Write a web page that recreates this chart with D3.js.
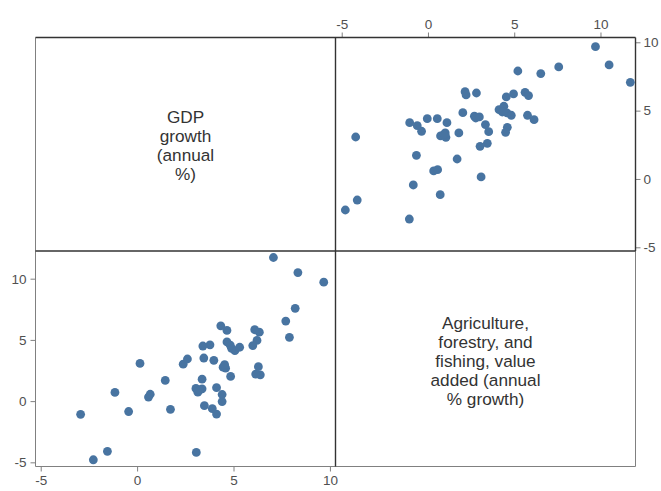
<!DOCTYPE html>
<html>
<head>
    <meta charset="utf-8"/>
    <script src="https://d3js.org/d3.v7.min.js"></script>
    <style>
        body { margin: 0; background-color: white; }
        svg { display: block; font-family: "Liberation Sans", Arial, sans-serif; }
    </style>
</head>
<body>
<script>

 // values, one entry per country
 var agriGrowth = [9.71,10.5,11.73,5.21,6.54,7.58,2.15,2.21,2.81,4.96,4.54,5.63,5.83,4.12,4.40,4.31,4.58,4.83,5.77,6.15,
                   2.02,2.69,2.77,2.98,-0.04,0.54,-1.06,1.10,-0.62,-0.37,3.33,3.52,4.6,4.5,1.79,0.73,1.0,1.04,0.92,-4.19,
                   3.02,3.44,-0.67,1.69,0.33,0.56,3.08,-0.85,0.71,-4.1,-4.79,-1.08];
 var gdpGrowth  = [9.68,8.34,7.07,7.9,7.71,8.2,6.39,6.15,6.29,6.22,6.0,6.34,6.1,5.07,5.32,4.9,4.83,4.66,4.66,4.34,
                   4.85,4.59,4.46,4.54,4.41,4.41,4.12,4.12,3.9,3.49,3.98,3.46,3.78,3.41,3.37,3.15,3.37,3.05,3.24,3.07,
                   2.39,2.61,1.73,1.46,0.59,0.68,0.15,-0.44,-1.15,-1.54,-2.27,-2.93];

 var gdpLabel  = ["GDP", "growth", "(annual", "%)"];
 var agriLabel = ["Agriculture,", "forestry, and", "fishing, value", "added (annual", "% growth)"];

 var gdpTicks  = [-5, 0, 5, 10];
 var agriTicks = [-5, 0, 5, 10];

 // globals
 var width = 661, height = 491;
 var xL = 35.5, xM = 335.5, xR = 635.5;
 var yT = 37.5, yM = 251, yB = 466.5;
 var dotColor = "#4874a1";
 var darkLine = "#333", greyLine = "#808080", tickText = "#505050";

 var points = gdpGrowth.map(function(d, i){ return {gdp: d, agri: agriGrowth[i]}; });

 var svgDoc = d3.select("body").append("svg")
    .attr("width", width)
    .attr("height", height);

 // scales, top right cell: x = agriculture, y = gdp
 var xAgri = d3.scaleLinear().domain([-5.36, 12.03]).range([xM, xR]);
 var yGdp  = d3.scaleLinear().domain([-5.27, 10.35]).range([yM, yT]);
 // bottom left cell: x = gdp, y = agriculture
 var xGdp  = d3.scaleLinear().domain([-5.27, 10.29]).range([xL, xM]);
 var yAgri = d3.scaleLinear().domain([-5.34, 12.26]).range([yB, yM]);

 // plain hyphen for negatives, like the original
 var fmt = function(d){ return String(d); };

 // axes
 function styleAxis(g) {
    g.select(".domain").remove();
    g.selectAll(".tick line").attr("stroke", greyLine);
    g.selectAll(".tick text").attr("fill", tickText).style("font-size", "13.5px");
 }

 svgDoc.append("g")
    .attr("transform", "translate(0," + yT + ")")
    .call(d3.axisTop(xAgri).tickValues(agriTicks).tickSize(5).tickPadding(4).tickFormat(fmt))
    .call(styleAxis);

 svgDoc.append("g")
    .attr("transform", "translate(" + xR + ",0)")
    .call(d3.axisRight(yGdp).tickValues(gdpTicks).tickSize(5).tickPadding(3).tickFormat(fmt))
    .call(styleAxis);

 svgDoc.append("g")
    .attr("transform", "translate(" + xL + ",0)")
    .call(d3.axisLeft(yAgri).tickValues(agriTicks).tickSize(5).tickPadding(4).tickFormat(fmt))
    .call(styleAxis);

 svgDoc.append("g")
    .attr("transform", "translate(0," + yB + ")")
    .call(d3.axisBottom(xGdp).tickValues(gdpTicks).tickSize(5).tickPadding(4).tickFormat(fmt))
    .call(styleAxis);

 // frame: grey outer edges, dark dividers
 var frame = svgDoc.append("g").attr("fill", "none");
 frame.append("line").attr("x1", xL).attr("y1", yT).attr("x2", xL).attr("y2", yB).attr("stroke", greyLine);
 frame.append("line").attr("x1", xL).attr("y1", yB).attr("x2", xR).attr("y2", yB).attr("stroke", greyLine);
 frame.append("line").attr("x1", xR).attr("y1", yM).attr("x2", xR).attr("y2", yB).attr("stroke", greyLine);
 frame.append("line").attr("x1", xL).attr("y1", yT).attr("x2", xR).attr("y2", yT).attr("stroke", darkLine).attr("stroke-width", 1.4);
 frame.append("line").attr("x1", xR).attr("y1", yT).attr("x2", xR).attr("y2", yM).attr("stroke", darkLine).attr("stroke-width", 1.4);
 frame.append("line").attr("x1", xL).attr("y1", yM).attr("x2", xR).attr("y2", yM).attr("stroke", darkLine).attr("stroke-width", 1.4);
 frame.append("line").attr("x1", xM).attr("y1", yT).attr("x2", xM).attr("y2", yB).attr("stroke", darkLine).attr("stroke-width", 1.4);

 // diagonal labels
 function cellLabel(lines, cx, cy) {
    var lh = 19;
    var t = svgDoc.append("text")
        .attr("text-anchor", "middle")
        .attr("fill", "#333")
        .style("font-size", "17.2px");
    t.selectAll("tspan").data(lines).enter().append("tspan")
        .attr("x", cx)
        .attr("y", function(d, i){ return cy + (i - (lines.length - 1) / 2) * lh + 6; })
        .text(function(d){ return d; });
 }
 cellLabel(gdpLabel, (xL + xM) / 2, 145);
 cellLabel(agriLabel, (xM + xR) / 2, 361);

 // top right scatter
 svgDoc.append("g").selectAll("circle")
    .data(points)
    .enter()
    .append("circle")
    .attr("cx", function(d){ return xAgri(d.agri); })
    .attr("cy", function(d){ return yGdp(d.gdp); })
    .attr("r", 4.4)
    .attr("fill", dotColor);

 // bottom left scatter
 svgDoc.append("g").selectAll("circle")
    .data(points)
    .enter()
    .append("circle")
    .attr("cx", function(d){ return xGdp(d.gdp); })
    .attr("cy", function(d){ return yAgri(d.agri); })
    .attr("r", 4.4)
    .attr("fill", dotColor);

</script>
</body>
</html>
